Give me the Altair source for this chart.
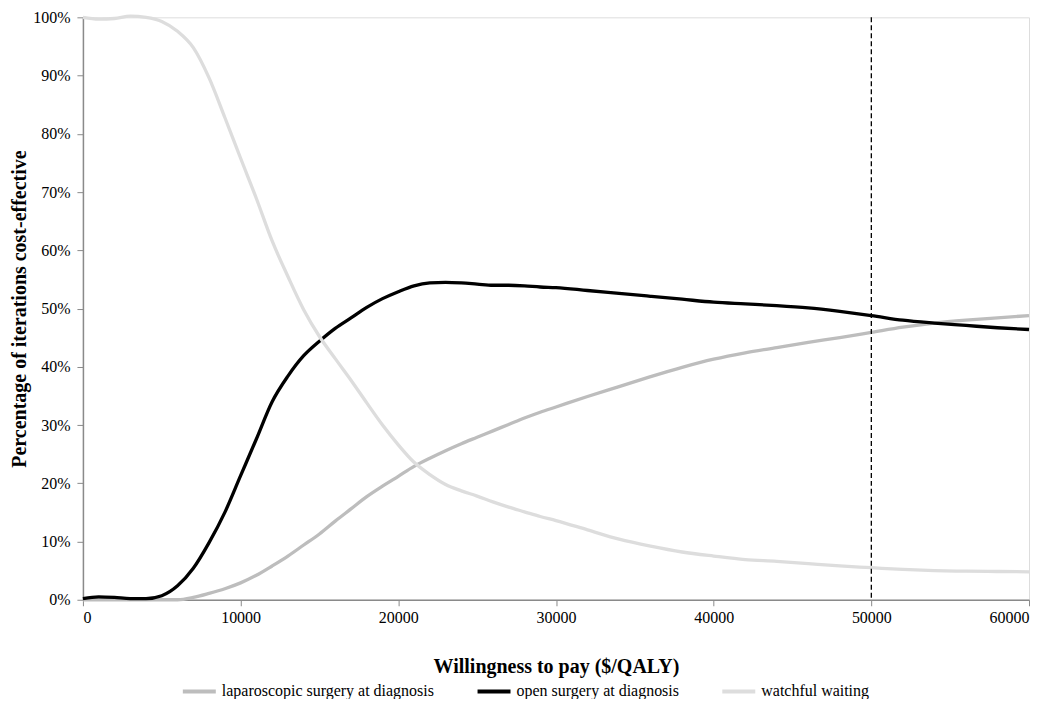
import altair as alt
import pandas as pd

# Willingness to pay ($/QALY)
wtp = [0, 1000, 2000, 3000, 4000, 5000, 6000, 7000, 8000, 9000, 10000,
       11000, 12000, 13000, 14000, 15000, 16000, 17000, 18000, 19000, 20000,
       21000, 22000, 23000, 24000, 25000, 26000, 27000, 28000, 29000, 30000,
       32000, 34000, 36000, 38000, 40000, 42000, 44000, 46000, 48000, 50000,
       52000, 54000, 56000, 58000, 60000]

laparoscopic = [0, 0, 0, 0, 0, 0, 0, 0.4, 1.1, 1.9, 2.9,
                4.2, 5.8, 7.5, 9.4, 11.3, 13.5, 15.6, 17.7, 19.5, 21.2,
                22.9, 24.3, 25.6, 26.8, 27.9, 29.0, 30.1, 31.2, 32.2, 33.1,
                34.9, 36.6, 38.3, 39.9, 41.3, 42.4, 43.3, 44.2, 45.0, 45.9,
                46.8, 47.5, 48.0, 48.4, 48.8]

open_surgery = [0.2, 0.5, 0.4, 0.2, 0.2, 0.7, 2.4, 5.4, 9.8, 15.0, 21.3,
                27.6, 34.0, 38.4, 41.9, 44.4, 46.6, 48.4, 50.2, 51.7, 52.9,
                53.9, 54.4, 54.5, 54.4, 54.2, 54.0, 54.0, 53.9, 53.7, 53.6,
                53.1, 52.6, 52.1, 51.6, 51.1, 50.8, 50.5, 50.1, 49.5, 48.8,
                48.0, 47.5, 47.1, 46.7, 46.4]

watchful = [100, 99.7, 99.8, 100.2, 100, 99.3, 97.6, 94.8, 89.6, 82.8, 75.8,
            68.9, 61.6, 55.5, 49.8, 45.2, 41.4, 37.7, 33.8, 30.0, 26.6,
            23.6, 21.5, 19.8, 18.7, 17.8, 16.8, 15.9, 15.1, 14.3, 13.6,
            12.0, 10.4, 9.2, 8.2, 7.5, 6.9, 6.6, 6.2, 5.8, 5.5,
            5.2, 5.0, 4.9, 4.85, 4.8]

series_names = ["laparoscopic surgery at diagnosis", "open surgery at diagnosis", "watchful waiting"]
series_colors = ["#bdbdbd", "#000000", "#dddddd"]
x_ticks = [0, 10000, 20000, 30000, 40000, 50000, 60000]
y_ticks = [0, 10, 20, 30, 40, 50, 60, 70, 80, 90, 100]
threshold = [50000]

rows = []
for name, vals in zip(series_names, [laparoscopic, open_surgery, watchful]):
    for x, v in zip(wtp, vals):
        rows.append({"wtp": x, "pct": v, "series": name})
df = pd.DataFrame(rows)

FONT = "Liberation Serif"
W, H = 947, 583
AXIS_GRAY = "#8a8a8a"

lines = alt.Chart(df).mark_line(interpolate="monotone", strokeWidth=3.3).encode(
    x=alt.X("wtp:Q",
            scale=alt.Scale(domain=[0, 60000], nice=False),
            axis=alt.Axis(values=x_ticks, format="d", grid=False,
                          title="Willingness to pay ($/QALY)",
                          titleFont=FONT, titleFontSize=20, titleFontWeight="bold",
                          titleColor="black", titleY=67, titleBaseline="middle",
                          labelFont=FONT, labelFontSize=16, labelColor="black",
                          labelPadding=4, tickSize=6, tickColor=AXIS_GRAY,
                          domainColor=AXIS_GRAY, domainWidth=1.5)),
    y=alt.Y("pct:Q",
            scale=alt.Scale(domain=[0, 100], nice=False),
            axis=alt.Axis(values=y_ticks, labelExpr="datum.value + '%'", grid=False,
                          title="Percentage of iterations cost-effective",
                          titleFont=FONT, titleFontSize=20, titleFontWeight="bold",
                          titleColor="black", titleX=-63, titleY=H / 2,
                          titleAngle=270, titleAlign="center", titleBaseline="middle",
                          labelFont=FONT, labelFontSize=16, labelColor="black",
                          labelPadding=7, tickSize=6, tickColor=AXIS_GRAY,
                          domainColor=AXIS_GRAY, domainWidth=1.5)),
    color=alt.Color("series:N",
                    scale=alt.Scale(domain=series_names, range=series_colors),
                    legend=alt.Legend(title=None, orient="none", legendX=98, legendY=656,
                                      direction="horizontal", symbolType="stroke",
                                      symbolSize=1089, symbolStrokeWidth=4,
                                      labelFont=FONT, labelFontSize=16, labelColor="black",
                                      labelLimit=0, labelOffset=4, columnPadding=35,
                                      padding=0)),
)

rule = alt.Chart(pd.DataFrame({"wtp": threshold})).mark_rule(
    color="black", strokeDash=[5, 3], strokeWidth=1.3
).encode(x="wtp:Q")

chart = alt.layer(lines, rule).properties(
    width=W, height=H,
    autosize=alt.AutoSizeParams(type="none"),
    padding={"left": 75, "top": 9, "right": 13, "bottom": 99},
).configure_view(stroke=None).configure(background="white")

chart.save("out.html", embed_options={"renderer": "svg", "actions": False})
